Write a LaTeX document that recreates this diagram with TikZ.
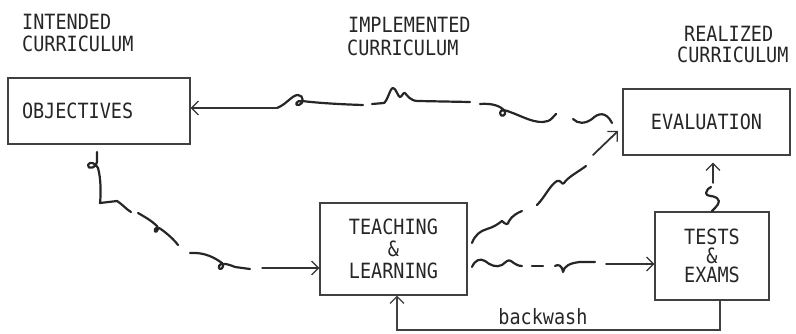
\documentclass[tikz,border=0pt]{standalone}
\usepackage{fontspec}
\newfontfamily\tw[FakeStretch=0.88]{DejaVu Sans Mono}
\usetikzlibrary{arrows.meta,calc}
\begin{document}
\begin{tikzpicture}[x=1pt,y=-1pt,
  box/.style={draw=black!75, line width=1.1pt, inner sep=0pt, font=\tw\fontsize{21}{22}\selectfont, text=black!85},
  lbl/.style={anchor=west, inner sep=0pt, font=\tw\fontsize{21}{22}\selectfont, text=black!85},
  sq/.style={draw=black!85, line width=2.2pt, line cap=round, line join=round},
  arr/.style={draw=black!80, line width=1.2pt, line cap=round, -{Straight Barb[length=7pt,width=14pt,line width=1.3pt]}},
  thinline/.style={draw=black!75, line width=1.1pt}
]
\useasboundingbox (0,0) rectangle (796,333);

% labels
\node[lbl] (l1a) at (22,22) {INTENDED};
\node[lbl] (l1b) at (22,44) {CURRICULUM};
\node[lbl] (l2a) at (348,25) {IMPLEMENTED};
\node[lbl] (l2b) at (347,48) {CURRICULUM};
\node[lbl] (l3a) at (684,34) {REALIZED};
\node[lbl] (l3b) at (677,55) {CURRICULUM};

% boxes
\node[box, minimum width=182pt, minimum height=66pt, text width=154pt, align=left] (obj) at (99,111) {OBJECTIVES};
\node[box, minimum width=167pt, minimum height=66pt, align=center] (eval) at (706.5,122) {EVALUATION};
\node[box, minimum width=147pt, minimum height=92pt, align=center] (teach) at (393.5,249) {TEACHING\\[0pt]\&\\[0pt]LEARNING};
\node[box, minimum width=114pt, minimum height=88pt, align=center] (tests) at (712,256) {TESTS\\[-3pt]\&\\[-3pt]EXAMS};

% connector EVALUATION -> OBJECTIVES (squiggly)
\coordinate (a4) at (277,108);
\path[sq] (573,119) .. controls (578,124) and (585,124) .. (592,119) .. controls (598,113) and (606,111) .. (612,123);
\path[sq] (480,104) .. controls (492,103) and (500,106) .. (504,110) .. controls (508,116) and (500,118) .. (500,113) .. controls (500,109) and (506,110) .. (510,112) .. controls (522,116) and (536,125) .. (548,121) .. controls (551,120) and (553,117) .. (556,114);
\path[sq] (372,104) -- (384,103) .. controls (388,100) and (390,88) .. (393,88) .. controls (396,88) and (398,97) .. (400,97) .. controls (402,97) and (403,92) .. (405,93) .. controls (407,95) and (410,101) .. (418,101) -- (470,102);
\path[sq] (a4) .. controls (287,104) and (292,95) .. (298,95) .. controls (304,95) and (304,104) .. (299,105) .. controls (294,106) and (296,100) .. (302,101) .. controls (310,102) and (330,104) .. (363,105);
\draw[arr] (a4) -- (a4 -| obj.east);

% connector OBJECTIVES -> TEACHING
\coordinate (b3) at (262,268);
\path[sq] (97,152) -- (97,162) .. controls (97,168) and (87,170) .. (88,165) .. controls (89,161) and (96,163) .. (98,168) .. controls (101,178) and (101,195) .. (100,203) -- (117,201) .. controls (122,204) and (126,209) .. (131,212);
\path[sq] (138,213) .. controls (145,217) and (152,221) .. (157,226) .. controls (160,232) and (153,234) .. (155,229) .. controls (157,225) and (162,230) .. (166,233) .. controls (171,237) and (175,241) .. (178,245);
\path[sq] (190,253) .. controls (205,252) and (215,258) .. (222,263) .. controls (226,268) and (218,272) .. (219,266) .. controls (220,262) and (228,264) .. (235,267) -- (250,269);
\draw[arr] (b3) -- (b3 -| teach.west);

% connector TEACHING -> EVALUATION
\coordinate (c3) at (593,155);
\coordinate (c4) at (618,131);
\path[sq] (472,243) .. controls (475,235) and (480,231) .. (487,229) .. controls (494,227) and (498,224) .. (502,221) .. controls (505,224) and (508,226) .. (509,221) .. controls (512,216) and (517,213) .. (522,211);
\path[sq] (537,205) .. controls (545,197) and (550,185) .. (557,181) .. controls (561,179) and (562,186) .. (564,183) .. controls (568,177) and (578,172) .. (586,166);
\draw[arr, line width=1.8pt] (c3) -- (c4);

% connector TEACHING -> TESTS
\coordinate (d4) at (606,264);
\path[sq] (472,267) .. controls (475,260) and (480,258) .. (485,261) .. controls (490,265) and (496,268) .. (502,265) .. controls (506,262) and (508,259) .. (511,261) .. controls (515,264) and (518,266) .. (522,266);
\path[sq] (532,266) -- (543,266);
\path[sq] (555,266) .. controls (558,264) and (562,265) .. (563,272) .. controls (564,266) and (570,263) .. (580,262) -- (595,262);
\draw[arr, line width=1.8pt] (d4) -- (d4 -| tests.west);

% connector TESTS -> EVALUATION
\coordinate (e1) at (713,183);
\path[sq] (712,211) .. controls (716,207) and (722,202) .. (717,198) .. controls (713,195) and (706,197) .. (706,193) .. controls (706,190) and (709,188) .. (711,187);
\draw[arr, line width=1.4pt, shorten >=7pt] (e1) -- (e1 |- eval.south);

% backwash
\coordinate (bwr) at (720,330);
\coordinate (bwl) at (397,330);
\draw[thinline, -{Straight Barb[length=7pt,width=14pt,line width=1.3pt]}] (tests.south -| bwr) -- (bwr) -- (bwl) -- (bwl |- teach.south);
\node[lbl, anchor=center] (bwt) at (543,317) {backwash};

\end{tikzpicture}
\end{document}
